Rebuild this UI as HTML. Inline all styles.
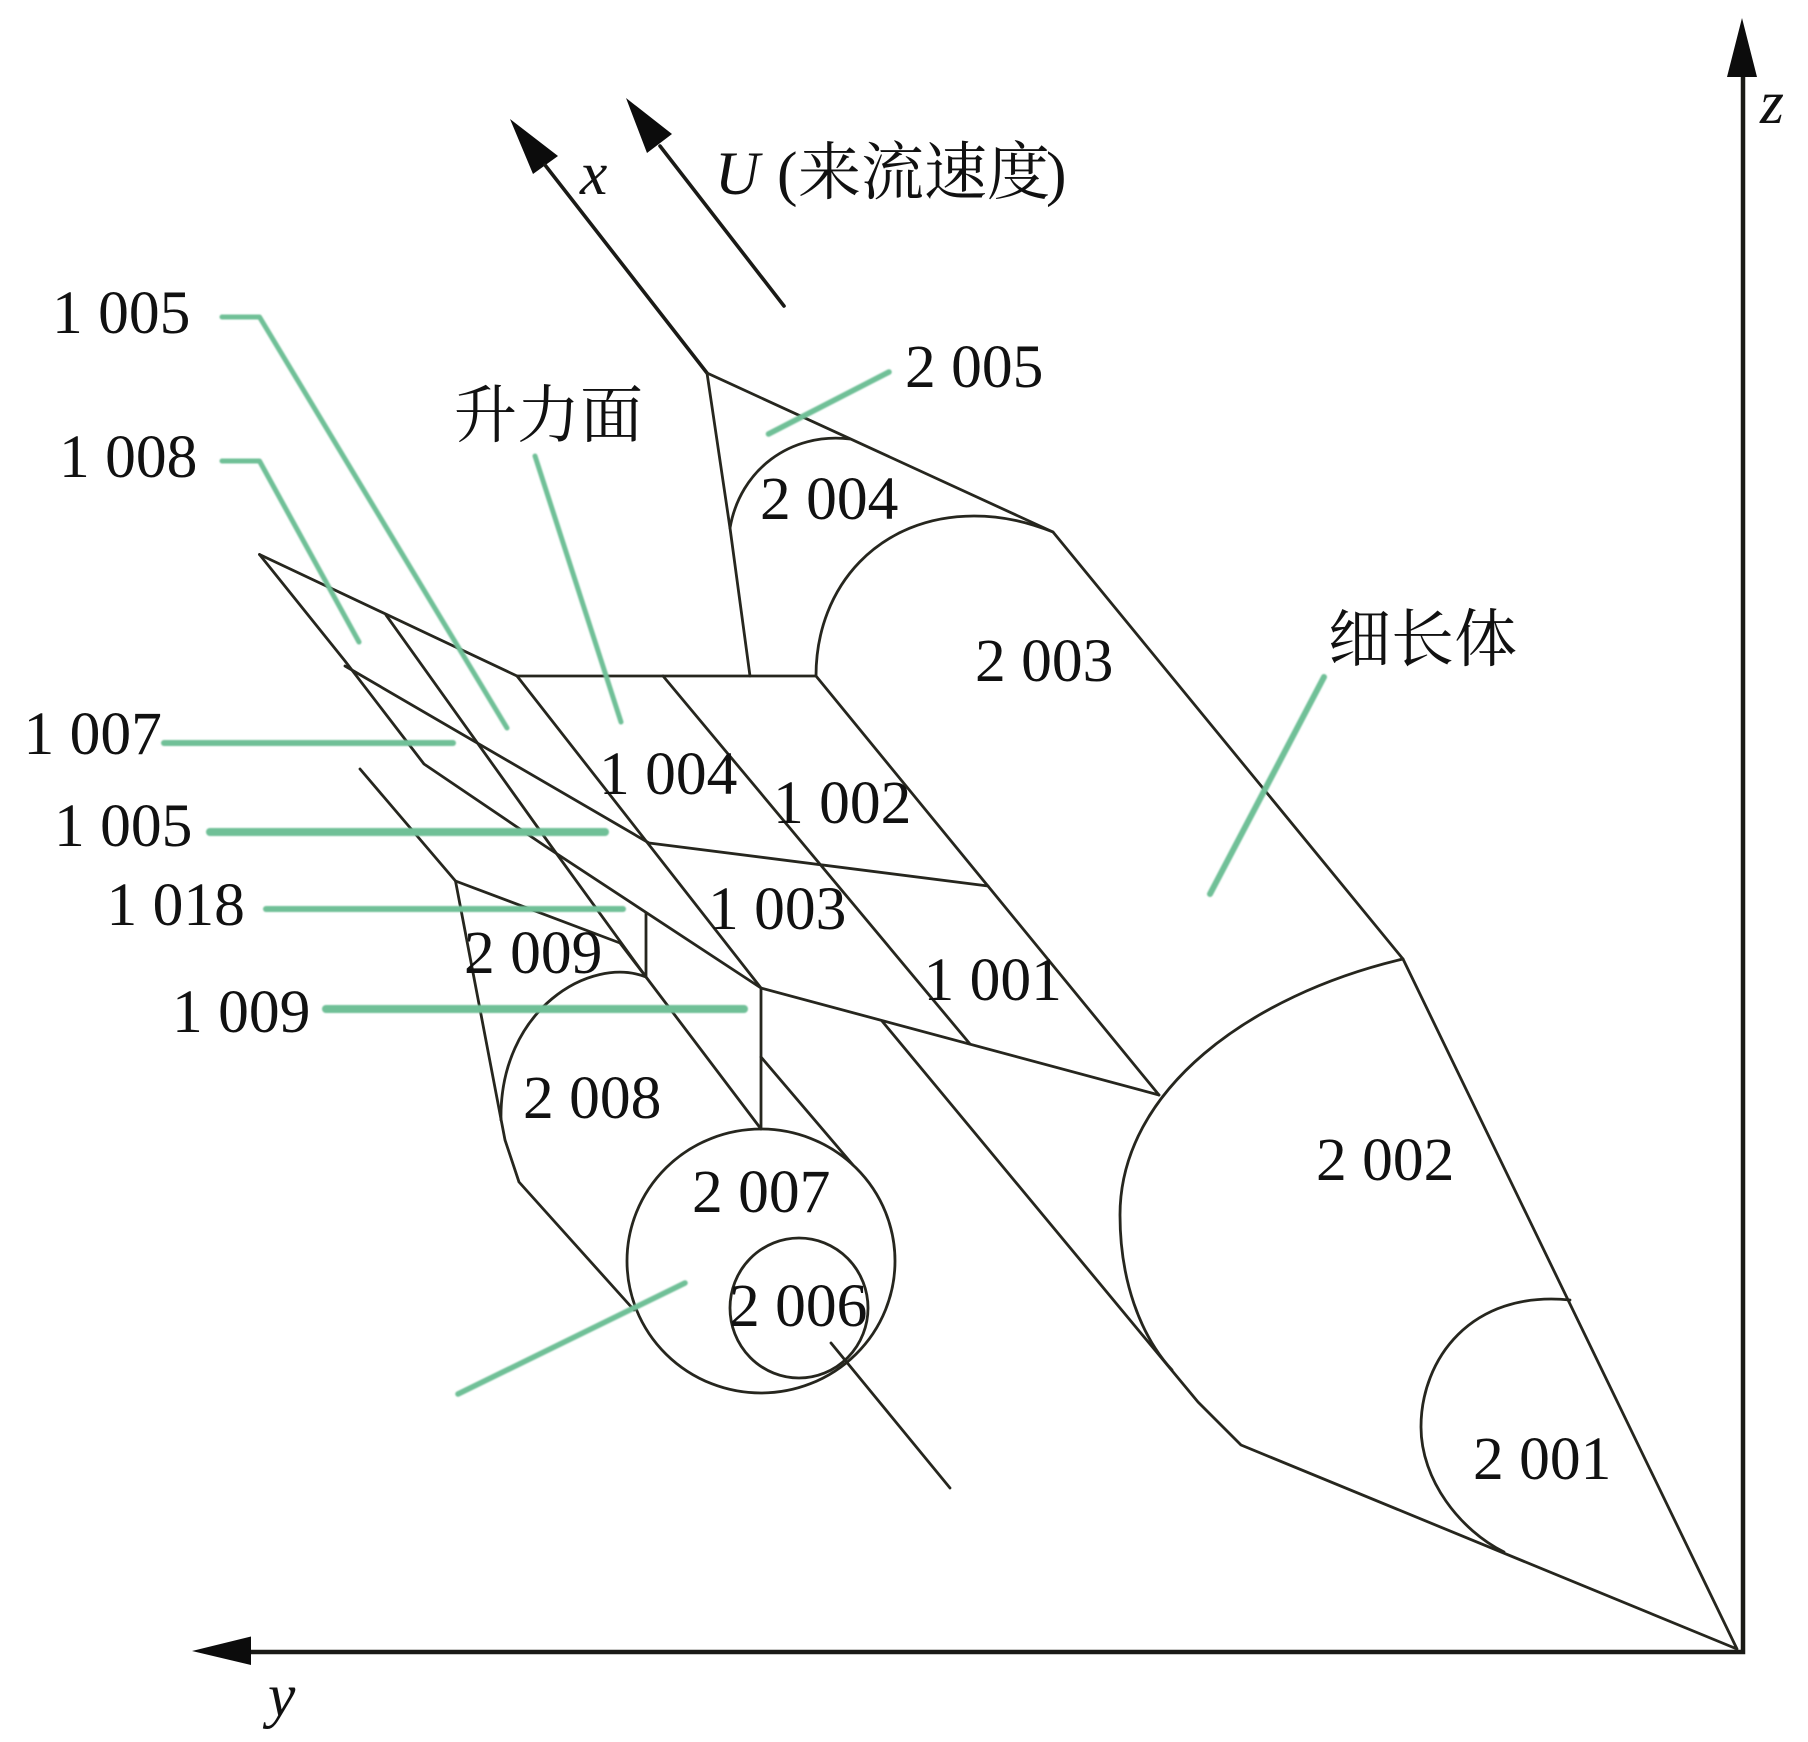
<!DOCTYPE html>
<html><head><meta charset="utf-8"><title>diagram</title>
<style>
html,body{margin:0;padding:0;background:#fff;width:1808px;height:1742px;overflow:hidden}
svg{display:block}
text{font-family:"Liberation Serif","Noto Serif CJK SC",serif;font-size:61.5px;fill:#111}
.i{font-style:italic}
.c{font-family:"Liberation Serif","Noto Serif CJK SC",serif;font-size:63px}
</style></head><body>
<svg width="1808" height="1742" viewBox="0 0 1808 1742" xmlns="http://www.w3.org/2000/svg">
<defs><filter id="b" x="-5%" y="-5%" width="110%" height="110%"><feGaussianBlur stdDeviation="0.7"/></filter></defs>
<rect width="1808" height="1742" fill="#fff"/>
<!-- axes -->
<g fill="none" stroke="#1a1a16" stroke-width="4.5">
<path d="M1743,70V1652H240"/>
</g>
<path d="M1742,18L1757,77H1727Z M192,1651L251,1636.5V1665Z M510,119L558,156L533,174Z M626,98L672,134L647,153Z" fill="#0c0c0c"/>
<g fill="none" stroke="#1a1a16" stroke-width="3.6" stroke-linecap="round">
<path d="M707,373L545,165"/>
<path d="M784,306L660,146"/>
</g>
<!-- main shape -->
<g fill="none" stroke="#26261e" stroke-width="2.8" stroke-linejoin="round" stroke-linecap="round">
<path d="M707,373L1053,532L1403,959L1737,1649L1241,1445L1198,1402L882,1021"/>
<path d="M707,373L730,528L750,676"/>
<path d="M730,528C740,470 790,432 850,439"/>
<path d="M816,676C816,585 880,516 974,516C1005,516 1030,523 1053,532"/>
<path d="M1403,959C1250,995 1120,1090 1120,1215C1120,1280 1140,1335 1172,1370"/>
<path d="M1570,1300C1470,1290 1421,1360 1421,1427C1421,1480 1460,1530 1504,1552"/>
<path d="M517,676H816L1159,1095"/>
<path d="M259.5,554.5L517,676L761,988L1159,1095"/>
<path d="M663,676L970,1044"/>
<path d="M259.5,554.5L345,661L424,764L545,846L761,988V1129"/>
<path d="M345,666L649,843L988,886"/>
<path d="M386,615L551,846L646,977L761,1129"/>
<path d="M761,1057L853,1165"/>
<path d="M360,769L455.5,881L620,943L646,977V913"/>
<path d="M455.5,881L496,1093L505,1140L519,1182L634,1310"/>
<path d="M646,977C590,955 499,1010 501,1120"/>
<ellipse cx="761" cy="1261" rx="134" ry="132"/>
<ellipse cx="799" cy="1308" rx="69" ry="70"/>
<path d="M831,1343L950,1488"/>
</g>
<!-- green leaders -->
<g fill="none" stroke="#6fc097" stroke-linecap="round" stroke-linejoin="round" filter="url(#b)">
<path stroke-width="5" d="M222,317H259.5L507,728"/>
<path stroke-width="5" d="M222,461H259.5L359,642"/>
<path stroke-width="5" d="M535,456L621,722"/>
<path stroke-width="6" d="M164,743H453"/>
<path stroke-width="8" d="M210,832H605"/>
<path stroke-width="6" d="M266,909H623"/>
<path stroke-width="8" d="M326,1009H744"/>
<path stroke-width="5.5" d="M458,1394L685,1283"/>
<path stroke-width="5.5" d="M768.5,434L889,372"/>
<path stroke-width="6" d="M1324,677L1210,894"/>
</g>
<!-- labels -->
<text x="52" y="333">1 005</text>
<text x="59" y="477">1 008</text>
<text x="23.5" y="754">1 007</text>
<text x="54" y="846">1 005</text>
<text x="106.5" y="925">1 018</text>
<text x="172" y="1032">1 009</text>
<text x="599" y="794">1 004</text>
<text x="773" y="823">1 002</text>
<text x="708" y="929">1 003</text>
<text x="923.5" y="1000">1 001</text>
<text x="1316" y="1180">2 002</text>
<text x="1473" y="1479">2 001</text>
<text x="975" y="681">2 003</text>
<text x="905" y="387">2 005</text>
<text x="760" y="519">2 004</text>
<text x="464" y="973">2 009</text>
<text x="523" y="1118">2 008</text>
<text x="692" y="1212">2 007</text>
<text x="729" y="1326">2 006</text>
<text class="c" x="454" y="437">升力面</text>
<text class="c" x="1328" y="661">细长体</text>
<text class="i" x="580" y="194">x</text>
<text class="i" x="715" y="194">U</text>
<text x="777" y="194">(</text>
<text class="c" x="798" y="194">来流速度</text>
<text x="1046" y="194">)</text>
<text class="i" x="1760" y="123">z</text>
<text class="i" x="268" y="1716">y</text>
</svg>
</body></html>
